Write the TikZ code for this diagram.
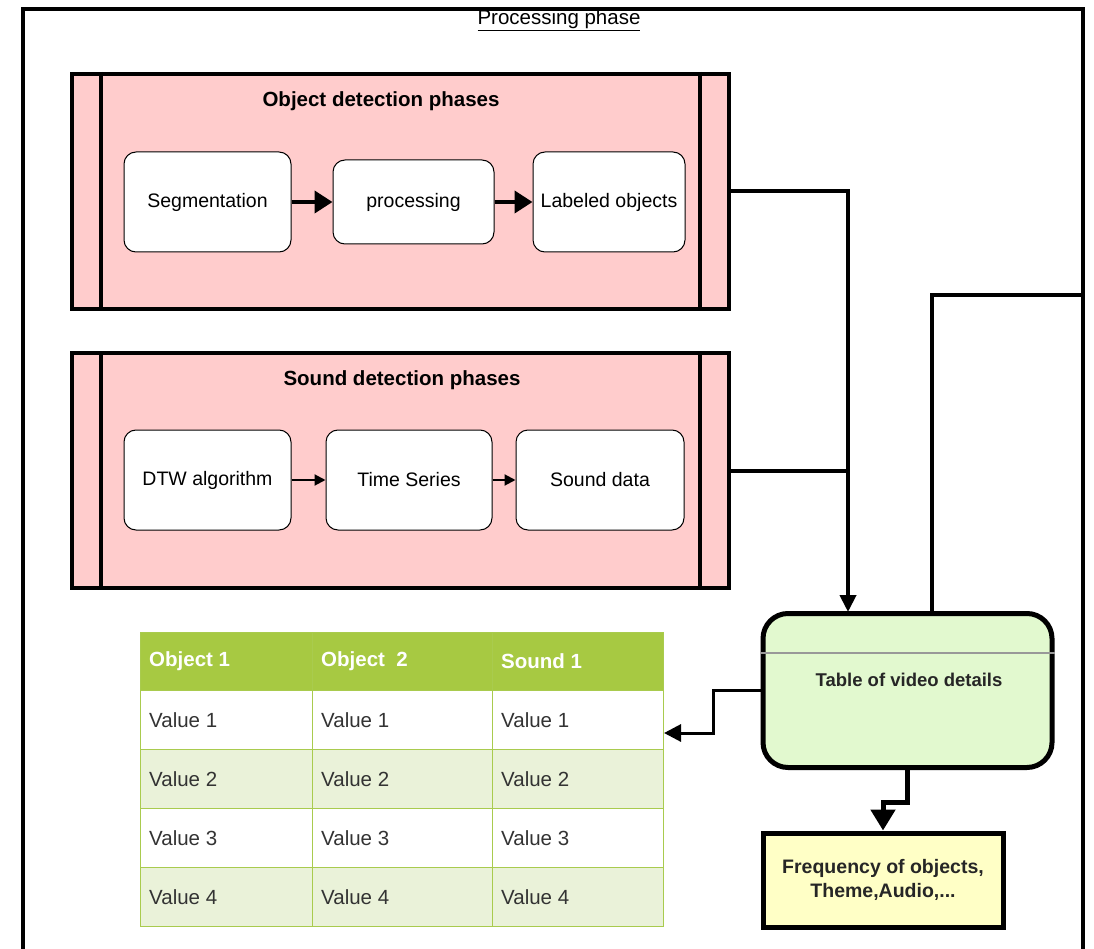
\documentclass[tikz,border=0pt]{standalone}
\usepackage{fontspec}
\setmainfont{Liberation Sans}
\usetikzlibrary{arrows.meta,calc}

\definecolor{phasefill}{HTML}{FFCCCC}
\definecolor{tvdfill}{HTML}{E2F9CF}
\definecolor{freqfill}{HTML}{FFFFC6}
\definecolor{hdrgreen}{HTML}{A7C942}
\definecolor{gridgreen}{HTML}{A9CB4E}
\definecolor{altrow}{HTML}{EAF2D9}
\definecolor{valtext}{HTML}{333333}

\tikzset{
  px/.style={font=\fontsize{#1}{#1}\selectfont},
  phasebox/.style={draw, line width=4pt, fill=phasefill, inner sep=0pt},
  stepbox/.style={draw, line width=1pt, fill=white, rounded corners=12pt,
    inner sep=0pt, align=center, px=19.5},
  phasetitle/.style={font=\fontsize{20.5}{24}\selectfont\bfseries},
  bigflow/.style={line width=4pt, -{Triangle[length=18pt,width=22pt]}},
  smallflow/.style={line width=2pt, -{Triangle[length=11pt,width=11pt]}},
  link/.style={line width=4pt},
  cell/.style={draw=gridgreen, line width=1pt, inner sep=0pt, anchor=north west},
  celltext/.style={anchor=west, inner sep=0pt, px=20.5},
}

\begin{document}
\begin{tikzpicture}[x=1pt, y=-1pt]
  \useasboundingbox (0,0) rectangle (1094,949);
  \fill[white] (0,0) rectangle (1094,949);

  % outer frame, open at the bottom
  \draw[line width=3.5pt] (23,949) -- (23,9) -- (1083,9) -- (1083,949);
  \node[px=20.5] (title) at (559,20) {\underline{Processing phase}};

  % ---- object detection phases ----
  \node[phasebox, minimum width=657pt, minimum height=235pt] (obj) at (400.5,191.5) {};
  \draw[line width=4pt] ([xshift=31pt]obj.north west) -- ([xshift=31pt]obj.south west);
  \draw[line width=4pt] ([xshift=-31pt]obj.north east) -- ([xshift=-31pt]obj.south east);
  \node[phasetitle] (objtitle) at (381,101) {Object detection phases};

  \node[stepbox, minimum width=167pt, minimum height=100pt] (seg) at (207.5,202) {Segmentation};
  \node[stepbox, minimum width=161pt, minimum height=84pt]  (proc) at (413.5,202) {processing};
  \node[stepbox, minimum width=152pt, minimum height=100pt] (lab) at (609,202) {Labeled objects};
  \draw[bigflow] (seg) -- (proc);
  \draw[bigflow] (proc) -- (lab);

  % ---- sound detection phases ----
  \node[phasebox, minimum width=657pt, minimum height=235pt] (snd) at (400.5,470.5) {};
  \draw[line width=4pt] ([xshift=31pt]snd.north west) -- ([xshift=31pt]snd.south west);
  \draw[line width=4pt] ([xshift=-31pt]snd.north east) -- ([xshift=-31pt]snd.south east);
  \node[phasetitle] (sndtitle) at (402,380) {Sound detection phases};

  \node[stepbox, minimum width=167pt, minimum height=100pt] (dtw) at (207.5,480) {DTW algorithm};
  \node[stepbox, minimum width=166pt, minimum height=100pt] (ts)  at (409,480) {Time Series};
  \node[stepbox, minimum width=168pt, minimum height=100pt] (sd)  at (600,480) {Sound data};
  \draw[smallflow] (dtw) -- (ts);
  \draw[smallflow] (ts) -- (sd);

  % ---- table of video details ----
  \node[draw, line width=5pt, fill=tvdfill, rounded corners=25pt,
        minimum width=289pt, minimum height=154pt, inner sep=0pt] (tvd) at (907.5,690.5) {};
  \draw[black!40, line width=1.5pt] ([yshift=-42pt]tvd.north west) -- ([yshift=-42pt]tvd.north east);
  \node[font=\fontsize{18.5}{22}\selectfont\bfseries, text=black!85] (tvdtext) at (909,680) {Table of video details};

  % ---- frequency box ----
  \node[draw, line width=5pt, fill=freqfill, minimum width=240pt, minimum height=94pt,
        inner sep=0pt, align=center, font=\fontsize{19.5}{24}\selectfont\bfseries,
        text=black!85] (freq) at (883,880) {Frequency of objects,\\Theme,Audio,...};

  % ---- results table ----
  \node[cell, fill=white, minimum width=523pt, minimum height=293pt] (tbl) at (140,632) {};
  \foreach \x/\w [count=\c] in {140/172, 312/180, 492/171} {
    \node[cell, fill=hdrgreen, minimum width=\w pt, minimum height=58pt] (h\c) at (\x,632) {};
    \foreach \y/\f [count=\r] in {690/white, 749/altrow, 808/white, 867/altrow} {
      \node[cell, fill=\f, minimum width=\w pt, minimum height=59pt] (c\r\c) at (\x,\y) {};
      \node[celltext, text=valtext] (t\r\c) at ([xshift=9pt]c\r\c.west) {Value \r};
    }
  }
  \node[celltext, text=white, font=\fontsize{20.5}{24}\selectfont\bfseries] (ht1) at ([xshift=9pt]h1.west) {Object 1};
  \node[celltext, text=white, font=\fontsize{20.5}{24}\selectfont\bfseries] (ht2) at ([xshift=9pt]h2.west) {Object\ \ 2};
  \node[celltext, text=white, font=\fontsize{20.5}{24}\selectfont\bfseries] (ht3) at ([xshift=9pt]h3.west) {Sound 1};

  % ---- connectors ----
  \coordinate (tvdin)  at (848,612);
  \coordinate (tvdout) at (932,614);
  \coordinate (edge)   at (1083,295);
  \coordinate (elbow)  at (713,733);
  \coordinate (tblin)  at (664,733);

  \draw[link, -{Triangle[length=17pt,width=16pt]}] (obj.east) -| (tvdin);
  \draw[link] (snd.east) -- (snd.east -| tvdin);
  \draw[link] (tvdout) |- (edge);
  \draw[line width=3pt, -{Triangle[length=17pt,width=17pt]}] (tvd.west) -| (elbow) -- (tblin);
  \draw[line width=5pt, -{Triangle[length=21pt,width=24pt]}] (tvd.south) -- ++(0,32) -| (freq.north);
\end{tikzpicture}
\end{document}
